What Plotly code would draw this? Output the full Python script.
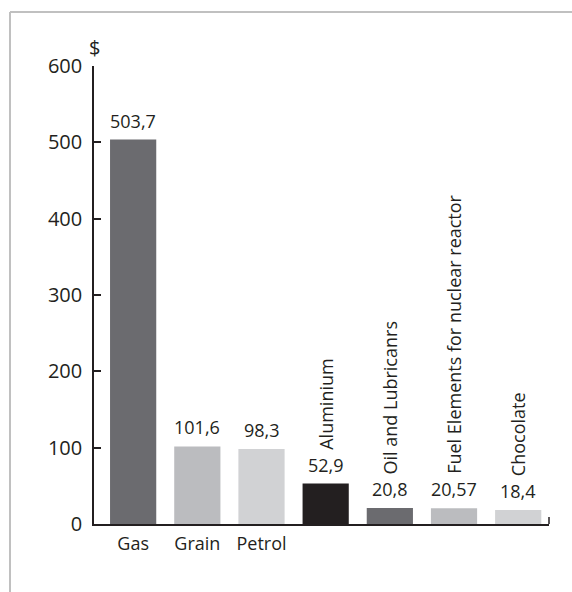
import plotly.graph_objects as go

categories = ["Gas", "Grain", "Petrol", "Aluminium", "Oil and Lubricanrs",
              "Fuel Elements for nuclear reactor", "Chocolate"]
values = [503.7, 101.6, 98.3, 52.9, 20.8, 20.57, 18.4]
value_labels = ["503,7", "101,6", "98,3", "52,9", "20,8", "20,57", "18,4"]
colors = ["#6b6b6f", "#bbbcbf", "#d1d2d4", "#231f20", "#6b6b6f", "#bbbcbf", "#d1d2d4"]
axis_labels_below = ["Gas", "Grain", "Petrol"]
y_ticks = [0, 100, 200, 300, 400, 500, 600]

FONT = "Open Sans"
DARK = "#231f20"
WEIGHT = 400

xs = list(range(len(categories)))

fig = go.Figure()
fig.add_trace(go.Bar(
    x=xs, y=values, marker=dict(color=colors, line=dict(width=0)),
    width=0.72, showlegend=False, hoverinfo="skip",
))

annotations = []
for i, (c, v, t) in enumerate(zip(categories, values, value_labels)):
    annotations.append(dict(
        x=i, y=v, xref="x", yref="y", text=t, showarrow=False,
        xanchor="center", yanchor="bottom", yshift=5,
        font=dict(family=FONT, size=18, color=DARK, weight=WEIGHT),
    ))
    if c in axis_labels_below:
        continue
    annotations.append(dict(
        x=i, y=v, xref="x", yref="y", text=c, textangle=-90,
        showarrow=False, xanchor="center", yanchor="bottom", yshift=32,
        font=dict(family=FONT, size=18, color=DARK, weight=WEIGHT),
    ))
annotations.append(dict(
    x=0, y=1, xref="paper", yref="paper", text="$", showarrow=False,
    xanchor="center", yanchor="bottom", yshift=3,
    font=dict(family=FONT, size=20, color=DARK, weight=WEIGHT),
))

W, H = 572, 592
L, R, T, B = 94, 23, 66, 68
pw, ph = W - L - R, H - T - B

def px_x(p):
    return (p - L) / pw

def px_y(q):
    return (H - B - q) / ph

shapes = [
    dict(type="line", xref="paper", yref="paper", x0=px_x(10), x1=1.2,
         y0=px_y(12), y1=px_y(12), line=dict(color="#c0c0c0", width=2)),
    dict(type="line", xref="paper", yref="paper", x0=px_x(10), x1=px_x(10),
         y0=px_y(12), y1=-0.3, line=dict(color="#c0c0c0", width=2)),
    dict(type="line", xref="paper", yref="paper", x0=1, x1=1,
         y0=0, y1=7 / ph, line=dict(color=DARK, width=1.5)),
]

fig.update_layout(
    width=W, height=H, margin=dict(l=L, r=R, t=T, b=B),
    paper_bgcolor="white", plot_bgcolor="white",
    font=dict(family=FONT, color=DARK),
    annotations=annotations, shapes=shapes,
    xaxis=dict(
        range=[-0.61, 6.48], tickmode="array",
        tickvals=[categories.index(c) for c in axis_labels_below],
        ticktext=axis_labels_below, ticks="", showgrid=False, zeroline=False,
        showline=True, linecolor=DARK, linewidth=1.5, ticklabelstandoff=3,
        tickfont=dict(family=FONT, size=18, color=DARK, weight=WEIGHT),
    ),
    yaxis=dict(
        range=[0, 600], tickmode="array", tickvals=y_ticks,
        ticks="inside", ticklen=7, tickwidth=1.5, tickcolor=DARK,
        showgrid=False, zeroline=False, showline=True, linecolor=DARK,
        linewidth=1.5, ticklabelstandoff=6,
        tickfont=dict(family=FONT, size=20, color=DARK, weight=WEIGHT),
    ),
)

fig.write_html("out.html")
